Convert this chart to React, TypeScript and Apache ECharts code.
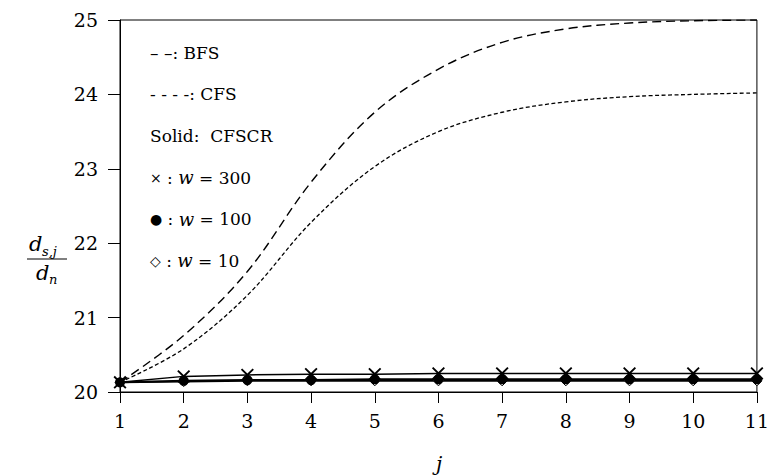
import React, { useEffect, useRef } from "react";
import * as echarts from "echarts";

const jValues = [1, 2, 3, 4, 5, 6, 7, 8, 9, 10, 11];
const bfs = [20.13, 20.76, 21.62, 22.82, 23.76, 24.34, 24.7, 24.88, 24.96, 24.99, 25.0];
const cfs = [20.13, 20.58, 21.3, 22.28, 23.03, 23.5, 23.76, 23.9, 23.97, 24.0, 24.02];
const w300 = [20.13, 20.21, 20.23, 20.24, 20.24, 20.25, 20.25, 20.25, 20.25, 20.25, 20.25];
const w100 = [20.13, 20.15, 20.16, 20.16, 20.17, 20.17, 20.17, 20.17, 20.17, 20.17, 20.17];
const w10 = [20.13, 20.14, 20.15, 20.15, 20.15, 20.15, 20.15, 20.15, 20.15, 20.15, 20.15];
const legendLines = [
  "– –: BFS",
  "- - - -: CFS",
  "Solid:  CFSCR",
  "{n|×} : {i|w} = 300",
  "{n|●} : {i|w} = 100",
  "{n|◇} : {i|w} = 10",
];

const FONT = "DejaVu Serif";
const pairs = (ys: number[]) => jValues.map((x, i) => [x, ys[i]]);
const CROSS = "path://M0,1L1,0L5,4L9,0L10,1L6,5L10,9L9,10L5,6L1,10L0,9L4,5Z";

const txt = (text: string, left: number, top: number, size: number, italic = false) => ({
  type: "text",
  left,
  top,
  style: { text, fontFamily: FONT, fontSize: size, fontStyle: italic ? "italic" : "normal", fill: "#000" },
});

export default function App() {
  const ref = useRef<HTMLDivElement>(null);
  useEffect(() => {
    document.body.style.margin = "0";
    const chart = echarts.init(ref.current!, null, { renderer: "svg" });
    const legendGraphics = legendLines.map((t, i) => ({
      type: "text",
      left: 150,
      top: 44 + i * 41.5,
      style: {
        text: t,
        fontFamily: FONT,
        fontSize: 17,
        fill: "#000",
        rich: {
          i: { fontStyle: "italic", fontSize: 18, fontFamily: FONT, fill: "#000" },
          n: { fontSize: 14, fontFamily: "DejaVu Sans", fill: "#000" },
        },
      },
    }));
    chart.setOption({
      animation: false,
      backgroundColor: "#fff",
      textStyle: { fontFamily: FONT },
      grid: { left: 120, right: 12, top: 20, bottom: 84, show: true, borderColor: "#000", borderWidth: 1 },
      xAxis: {
        type: "value",
        min: 1,
        max: 11,
        interval: 1,
        axisLine: { lineStyle: { color: "#000", width: 1 } },
        axisTick: { inside: false, length: 11, lineStyle: { color: "#000" } },
        splitLine: { show: false },
        axisLabel: { color: "#000", fontFamily: FONT, fontSize: 19, margin: 19 },
      },
      yAxis: {
        type: "value",
        min: 20,
        max: 25,
        interval: 1,
        axisLine: { show: true, lineStyle: { color: "#000", width: 1 } },
        axisTick: { show: true, length: 12, lineStyle: { color: "#000" } },
        splitLine: { show: false },
        axisLabel: { color: "#000", fontFamily: FONT, fontSize: 19, margin: 22 },
      },
      graphic: [
        ...legendGraphics,
        txt("j", 436, 454, 20, true),
        txt("d", 29, 233, 21, true),
        txt("s,j", 42, 245, 13, true),
        { type: "line", shape: { x1: 27, y1: 259, x2: 67, y2: 259 }, style: { stroke: "#000", lineWidth: 1.2 } },
        txt("d", 36, 262, 21, true),
        txt("n", 49, 273, 13, true),
      ],
      series: [
        {
          name: "BFS",
          type: "line",
          data: pairs(bfs),
          smooth: 0.35,
          showSymbol: false,
          lineStyle: { color: "#000", width: 1.4, type: [9, 5] },
        },
        {
          name: "CFS",
          type: "line",
          data: pairs(cfs),
          smooth: 0.35,
          showSymbol: false,
          lineStyle: { color: "#000", width: 1.3, type: [4, 2.5] },
        },
        {
          name: "w=10",
          type: "line",
          data: pairs(w10),
          symbol: "diamond",
          symbolSize: 10,
          itemStyle: { color: "#fff", borderColor: "#000", borderWidth: 1 },
          lineStyle: { color: "#000", width: 1.8 },
        },
        {
          name: "w=300",
          type: "line",
          data: pairs(w300),
          symbol: CROSS,
          symbolSize: 13,
          itemStyle: { color: "#000" },
          lineStyle: { color: "#000", width: 1.5 },
        },
        {
          name: "w=100",
          type: "line",
          data: pairs(w100),
          symbol: "circle",
          symbolSize: 10,
          itemStyle: { color: "#000" },
          lineStyle: { color: "#000", width: 2 },
        },
      ],
    });
    return () => chart.dispose();
  }, []);
  return <div ref={ref} style={{ width: 772, height: 476 }} />;
}
